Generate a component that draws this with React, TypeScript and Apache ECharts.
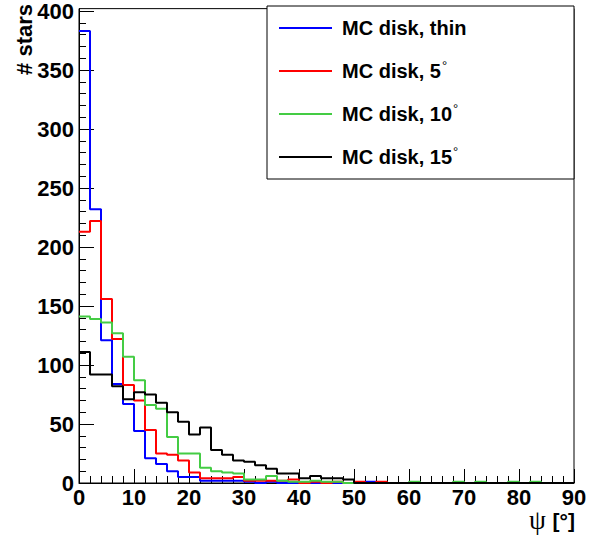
import React, { useEffect, useRef } from "react";
import * as echarts from "echarts";

const FONT = "'Liberation Sans', Arial, Helvetica, sans-serif";

const binStarts = [0, 2, 4, 6, 8, 10, 12, 14, 16, 18, 20, 22, 24, 26, 28, 30, 32, 34, 36, 38, 40, 42, 44, 46, 48, 50, 52, 54, 56, 58, 60, 62, 64, 66, 68, 70, 72, 74, 76, 78, 80, 82, 84, 86, 88];
const binEnd = 90;

const thinDisk = [383, 232, 121, 84, 67, 44, 21, 16, 10, 5, 5, 2, 2, 2, 2, 1, 0, 1, 0, 0, 0, 0, 0, 0, 0, 0, 1, 0, 0, 0, 0, 0, 0, 0, 0, 0, 0, 0, 0, 0, 0, 0, 0, 0, 0];
const disk5 = [213, 222, 156, 122, 83, 70, 45, 25, 24, 19, 9, 4, 4, 4, 5, 2, 2, 2, 2, 3, 0, 1, 0, 1, 0, 1, 0, 1, 0, 0, 0, 0, 0, 0, 0, 0, 0, 0, 0, 0, 0, 0, 0, 0, 0];
const disk10 = [141, 139, 136, 127, 107, 87, 66, 63, 39, 25, 25, 13, 10, 9, 8, 3, 3, 6, 2, 1, 1, 2, 1, 1, 0, 0, 0, 0, 0, 0, 1, 0, 0, 0, 1, 0, 1, 0, 0, 1, 0, 1, 0, 0, 0];
const disk15 = [111, 92, 92, 82, 71, 77, 75, 68, 60, 52, 41, 47, 28, 24, 19, 18, 15, 12, 8, 8, 4, 6, 4, 4, 3, 0, 0, 0, 0, 0, 0, 0, 0, 0, 0, 0, 0, 0, 0, 0, 0, 0, 0, 0, 0];

const seriesNames = ["MC disk, thin", "MC disk, 5", "MC disk, 10", "MC disk, 15"];
const seriesColors = ["#0000ff", "#ff0000", "#44cc44", "#000000"];
const seriesValues = [thinDisk, disk5, disk10, disk15];

const yMajorTicks = [0, 50, 100, 150, 200, 250, 300, 350, 400];
const yMinorTicks = [10, 20, 30, 40, 60, 70, 80, 90, 110, 120, 130, 140, 160, 170, 180, 190, 210, 220, 230, 240, 260, 270, 280, 290, 310, 320, 330, 340, 360, 370, 380, 390];
const yMax = 402;

function histData(values: number[]) {
  const d: number[][] = binStarts.map((x, i) => [x, values[i]]);
  d.push([binEnd, values[values.length - 1]]);
  return d;
}

export default function App() {
  const ref = useRef<HTMLDivElement>(null);
  useEffect(() => {
    if (!ref.current) return;
    const chart = echarts.init(ref.current, undefined, { renderer: "svg" });
    const legendRows = [28, 71, 114, 157];
    const legendGraphics: any[] = [
      {
        type: "rect",
        shape: { x: 267, y: 6, width: 307, height: 173 },
        style: { fill: "#fff", stroke: "#000", lineWidth: 1 },
        z: 10,
      },
    ];
    seriesNames.forEach((name, i) => {
      legendGraphics.push({
        type: "line",
        shape: { x1: 279, y1: legendRows[i], x2: 332, y2: legendRows[i] },
        style: { stroke: seriesColors[i], lineWidth: 2 },
        z: 11,
      });
      legendGraphics.push({
        type: "text",
        x: 342,
        y: legendRows[i],
        z: 11,
        style: {
          text: i === 0 ? "{t|" + name + "}" : "{t|" + name + "}{d|°}",
          verticalAlign: "middle",
          rich: {
            t: { fontSize: 20, fontWeight: "bold", fontFamily: FONT, fill: "#000" },
            d: { fontSize: 13, fontFamily: FONT, fill: "#000", verticalAlign: "top", padding: [0, 0, 12, 1] },
          },
        },
      });
    });

    const option: any = {
      animation: false,
      backgroundColor: "#fff",
      grid: { left: 79, top: 6, width: 495, height: 477, show: true, borderColor: "#000", borderWidth: 1, backgroundColor: "transparent" },
      xAxis: {
        type: "value",
        min: 0,
        max: 90,
        interval: 10,
        axisLine: { show: true, lineStyle: { color: "#000", width: 1 } },
        axisTick: { show: true, inside: true, length: 14, lineStyle: { color: "#000" } },
        minorTick: { show: true, splitNumber: 5, length: 7, lineStyle: { color: "#000" } },
        axisLabel: { fontSize: 22, fontWeight: "bold", color: "#000", margin: 3, fontFamily: FONT },
        splitLine: { show: false },
        minorSplitLine: { show: false },
      },
      yAxis: [
        {
          type: "value",
          min: 0,
          max: yMax,
          axisLine: { show: true, lineStyle: { color: "#000", width: 1 } },
          axisTick: { show: true, inside: true, length: 15, customValues: yMajorTicks, lineStyle: { color: "#000" } },
          axisLabel: { customValues: yMajorTicks, fontSize: 22, fontWeight: "bold", color: "#000", margin: 5, fontFamily: FONT },
          splitLine: { show: false },
        },
        {
          type: "value",
          min: 0,
          max: yMax,
          position: "left",
          axisLine: { show: false },
          axisTick: { show: true, inside: true, length: 7, customValues: yMinorTicks, lineStyle: { color: "#000" } },
          axisLabel: { show: false },
          splitLine: { show: false },
        },
      ],
      series: seriesValues.map((vals, i) => ({
        type: "line",
        name: seriesNames[i],
        step: "end",
        data: histData(vals),
        symbol: "none",
        lineStyle: { color: seriesColors[i], width: 2 },
        itemStyle: { color: seriesColors[i] },
        yAxisIndex: 0,
        z: 2 + i,
      })),
      graphic: [
        ...legendGraphics,
        {
          type: "text",
          x: 13,
          y: 4,
          rotation: Math.PI / 2,
          style: {
            text: "# stars",
            fontSize: 22,
            fontWeight: "bold",
            fontFamily: FONT,
            fill: "#000",
            align: "right",
            verticalAlign: "top",
          },
        },
        {
          type: "text",
          x: 575,
          y: 520,
          style: {
            text: "{p|ψ}  {b|[°]}",
            align: "right",
            verticalAlign: "middle",
            rich: {
              p: { fontSize: 27, fontFamily: "'Liberation Serif', 'DejaVu Serif', serif", fill: "#000" },
              b: { fontSize: 21, fontWeight: "bold", fontFamily: FONT, fill: "#000" },
            },
          },
        },
      ],
    };
    chart.setOption(option);
    return () => chart.dispose();
  }, []);
  return <div ref={ref} style={{ position: "fixed", left: 0, top: 0, width: 606, height: 535, background: "#fff" }} />;
}
